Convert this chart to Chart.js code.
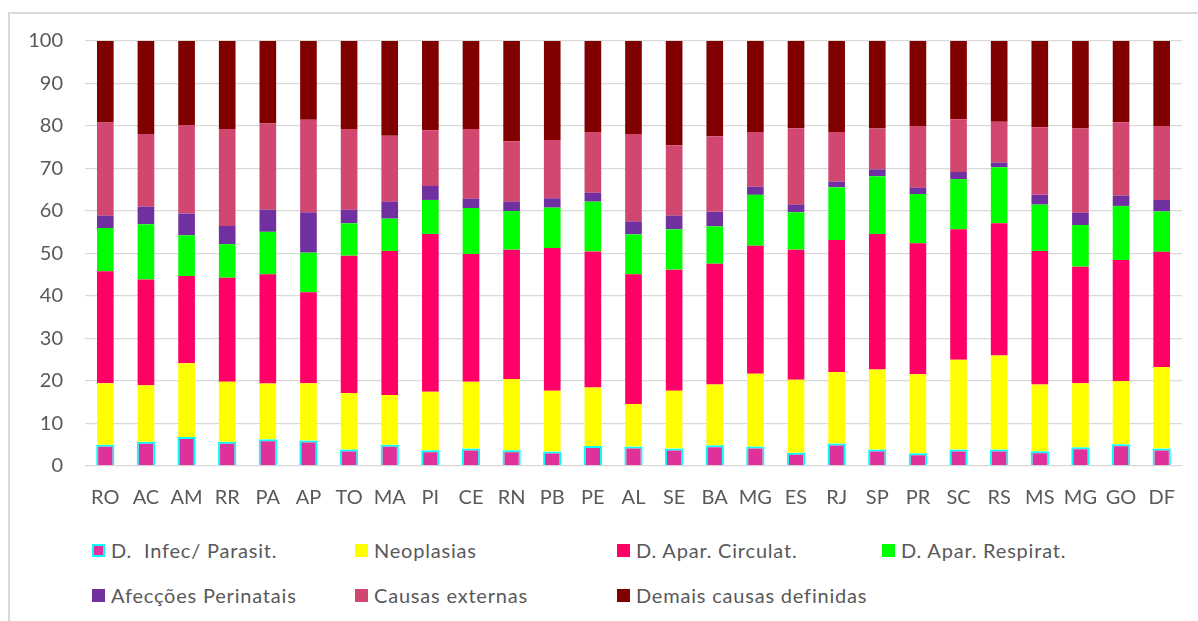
<!DOCTYPE html>
<html>
<head>
<meta charset="utf-8">
<script src="https://cdn.jsdelivr.net/npm/chart.js@4"></script>
<style>
  body { margin: 0; background: #fff; width: 1198px; height: 621px; overflow: hidden; position: relative; font-family: Lato, sans-serif; }
  #frame { position: absolute; left: 8px; top: 12px; right: -2px; bottom: -2px; border-left: 2px solid #d9d9d9; border-top: 2px solid #d9d9d9; }
  #wrap { position: absolute; left: 8px; top: 12px; width: 1190px; height: 514px; }
  #legenda { position: absolute; left: 92px; top: 537px; display: grid; grid-template-columns: 263px 262px 265px 263px; row-gap: 19px; }
  .item { display: flex; align-items: center; height: 26px; font-size: 20px; letter-spacing: 0.8px; color: #595959; white-space: pre; }
  .box { width: 13px; height: 13px; margin-right: 6px; box-sizing: border-box; }
</style>
</head>
<body>
<div id="frame"></div>
<div id="wrap"><canvas id="grafico"></canvas></div>
<div id="legenda"></div>
<script>
// estados
const estados = ["RO","AC","AM","RR","PA","AP","TO","MA","PI","CE","RN","PB","PE","AL","SE","BA","MG","ES","RJ","SP","PR","SC","RS","MS","MG","GO","DF"];

// % de óbitos por grupo de causas
const infecParasit = [5.0,5.7,6.8,5.7,6.3,6.0,3.9,5.0,3.7,4.1,3.7,3.4,4.7,4.6,4.1,4.9,4.6,3.1,5.3,3.9,3.0,3.9,3.9,3.5,4.4,5.1,4.1];
const neoplasias = [14.5,13.3,17.4,14.1,13.1,13.5,13.3,11.7,13.8,15.7,16.8,14.3,13.8,10.0,13.6,14.3,17.1,17.2,16.8,18.8,18.6,21.1,22.1,15.7,15.1,14.9,19.2];
const aparCirculat = [26.3,24.9,20.5,24.5,25.7,21.4,32.3,33.9,37.1,30.1,30.4,33.6,32.0,30.5,28.5,28.4,30.1,30.6,31.1,31.9,30.8,30.7,31.1,31.4,27.4,28.5,27.1];
const aparRespirat = [10.2,13.0,9.6,7.9,10.0,9.3,7.6,7.6,8.0,10.8,9.1,9.5,11.7,9.4,9.5,8.8,12.0,8.8,12.4,13.6,11.6,11.8,13.2,10.9,9.8,12.7,9.5];
const perinatais = [2.9,4.1,5.1,4.3,5.2,9.5,3.2,4.0,3.3,2.2,2.2,2.2,2.1,3.0,3.2,3.4,1.9,1.8,1.3,1.6,1.5,1.7,1.1,2.3,2.9,2.4,2.7];
const externas = [21.9,17.1,20.7,22.8,20.3,21.8,19.0,15.5,13.1,16.4,14.2,13.7,14.3,20.6,16.6,17.8,12.9,18.0,11.7,9.6,14.5,12.4,9.6,15.9,19.8,17.3,17.4];
const demais = [19.2,21.9,19.9,20.7,19.4,18.5,20.7,22.3,21.0,20.7,23.6,23.3,21.4,21.9,24.5,22.4,21.4,20.5,21.4,20.6,20.0,18.4,19.0,20.3,20.6,19.1,20.0];

const yTicks = [0,10,20,30,40,50,60,70,80,90,100];

const series = [
    { label: "D.  Infec/ Parasit.", data: infecParasit, cor: "#E0309A", borda: "#00FFFF", bw: 2, bp: 0.45 },
    { label: "Neoplasias", data: neoplasias, cor: "#FFFF00" },
    { label: "D. Apar. Circulat.", data: aparCirculat, cor: "#FF0066" },
    { label: "D. Apar. Respirat.", data: aparRespirat, cor: "#00FF00" },
    { label: "Afecções Perinatais", data: perinatais, cor: "#7030A0" },
    { label: "Causas externas", data: externas, cor: "#D24770" },
    { label: "Demais causas definidas", data: demais, cor: "#800000" }
];

const fonte = { family: "Lato, sans-serif", size: 20 };

const grafico = new Chart(document.getElementById("grafico"), {
    type: "bar",
    data: {
        labels: estados,
        datasets: series.map(s => ({
            label: s.label,
            data: s.data,
            backgroundColor: s.cor,
            borderColor: s.borda || s.cor,
            borderWidth: s.bw || 0,
            barPercentage: s.bp || 0.41,
            categoryPercentage: 1
        }))
    },
    options: {
        responsive: true,
        maintainAspectRatio: false,
        animation: false,
        layout: { padding: { top: 29, right: 16, left: 0, bottom: 0 } },
        plugins: { legend: { display: false }, tooltip: { enabled: false } },
        scales: {
            x: {
                stacked: true,
                grid: { display: false, drawTicks: false },
                border: { display: false },
                ticks: { color: "#595959", font: fonte, padding: 20, maxRotation: 0, autoSkip: false },
                afterFit: s => { s.height = 60; }
            },
            y: {
                stacked: true,
                min: 0,
                max: 100,
                afterBuildTicks: s => { s.ticks = yTicks.map(v => ({ value: v })); },
                // tick invisível só para afastar os rótulos do eixo
                grid: { color: "#d9d9d9", lineWidth: 1.3, drawTicks: true, tickLength: 20, tickColor: "rgba(0,0,0,0)" },
                border: { display: false },
                ticks: { color: "#595959", font: fonte, padding: 2 },
                afterFit: s => { s.width = 77; }
            }
        }
    }
});

// legenda em grade, como no original
const leg = document.getElementById("legenda");
grafico.data.datasets.forEach(ds => {
    const div = document.createElement("div");
    div.className = "item";
    const b = ds.borderWidth ? `border:2px solid ${ds.borderColor};` : "";
    div.innerHTML = `<span class="box" style="background:${ds.backgroundColor};${b}"></span>${ds.label}`;
    leg.appendChild(div);
});
</script>
</body>
</html>
